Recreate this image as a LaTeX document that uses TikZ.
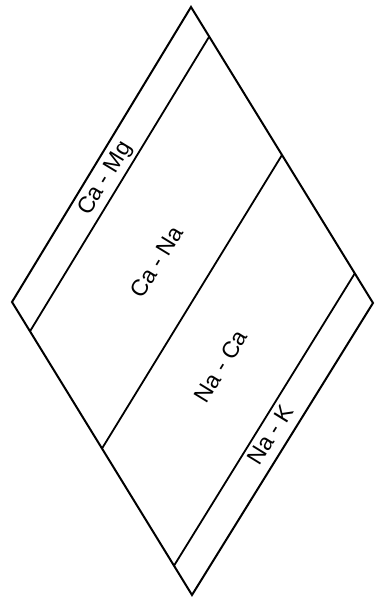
\documentclass[tikz,border=0pt]{standalone}
\usepackage{fontspec}
\setmainfont{Liberation Sans}
\usetikzlibrary{calc}

\begin{document}
\begin{tikzpicture}[
    x=1pt, y=1pt,
    edge/.style  = {line width=2pt, line join=miter},
    split/.style = {line width=1.8pt},
    zone/.style  = {font=\fontsize{23}{26}\selectfont, sloped, inner sep=0pt},
]
\useasboundingbox (0,0) rectangle (376,600);

%% -- Corners of the rhombus -------------------------------------------------
\coordinate (top)    at (191,593);
\coordinate (left)   at (12,298);
\coordinate (right)  at (373,297);
\coordinate (bottom) at (192,5);

%% -- Outline ----------------------------------------------------------------
\draw[edge] (top) -- (right) -- (bottom) -- (left) -- cycle;

%% -- Dividing lines (parallel to the upper left side) -------------------------
\foreach \t/\name in {0.1/camg, 0.5/cana, 0.9/nak} {
    \coordinate (\name-a) at ($(top)!\t!(right)$);
    \coordinate (\name-b) at ($(left)!\t!(bottom)$);
    \draw[split] (\name-a) -- (\name-b);
}

%% -- Zone labels ------------------------------------------------------------
\path ($(top)!0.053!(right)$) -- ($(left)!0.053!(bottom)$)
    node[zone, pos=0.53] (lcamg) {Ca - Mg};
\path ($(top)!0.335!(right)$) -- ($(left)!0.335!(bottom)$)
    node[zone, pos=0.53] (lcana) {Ca - Na};
\path ($(top)!0.69!(right)$)  -- ($(left)!0.69!(bottom)$)
    node[zone, pos=0.53] (lnaca) {Na - Ca};
\path ($(top)!0.943!(right)$) -- ($(left)!0.943!(bottom)$)
    node[zone, pos=0.51] (lnak)  {Na - K};

\end{tikzpicture}
\end{document}
